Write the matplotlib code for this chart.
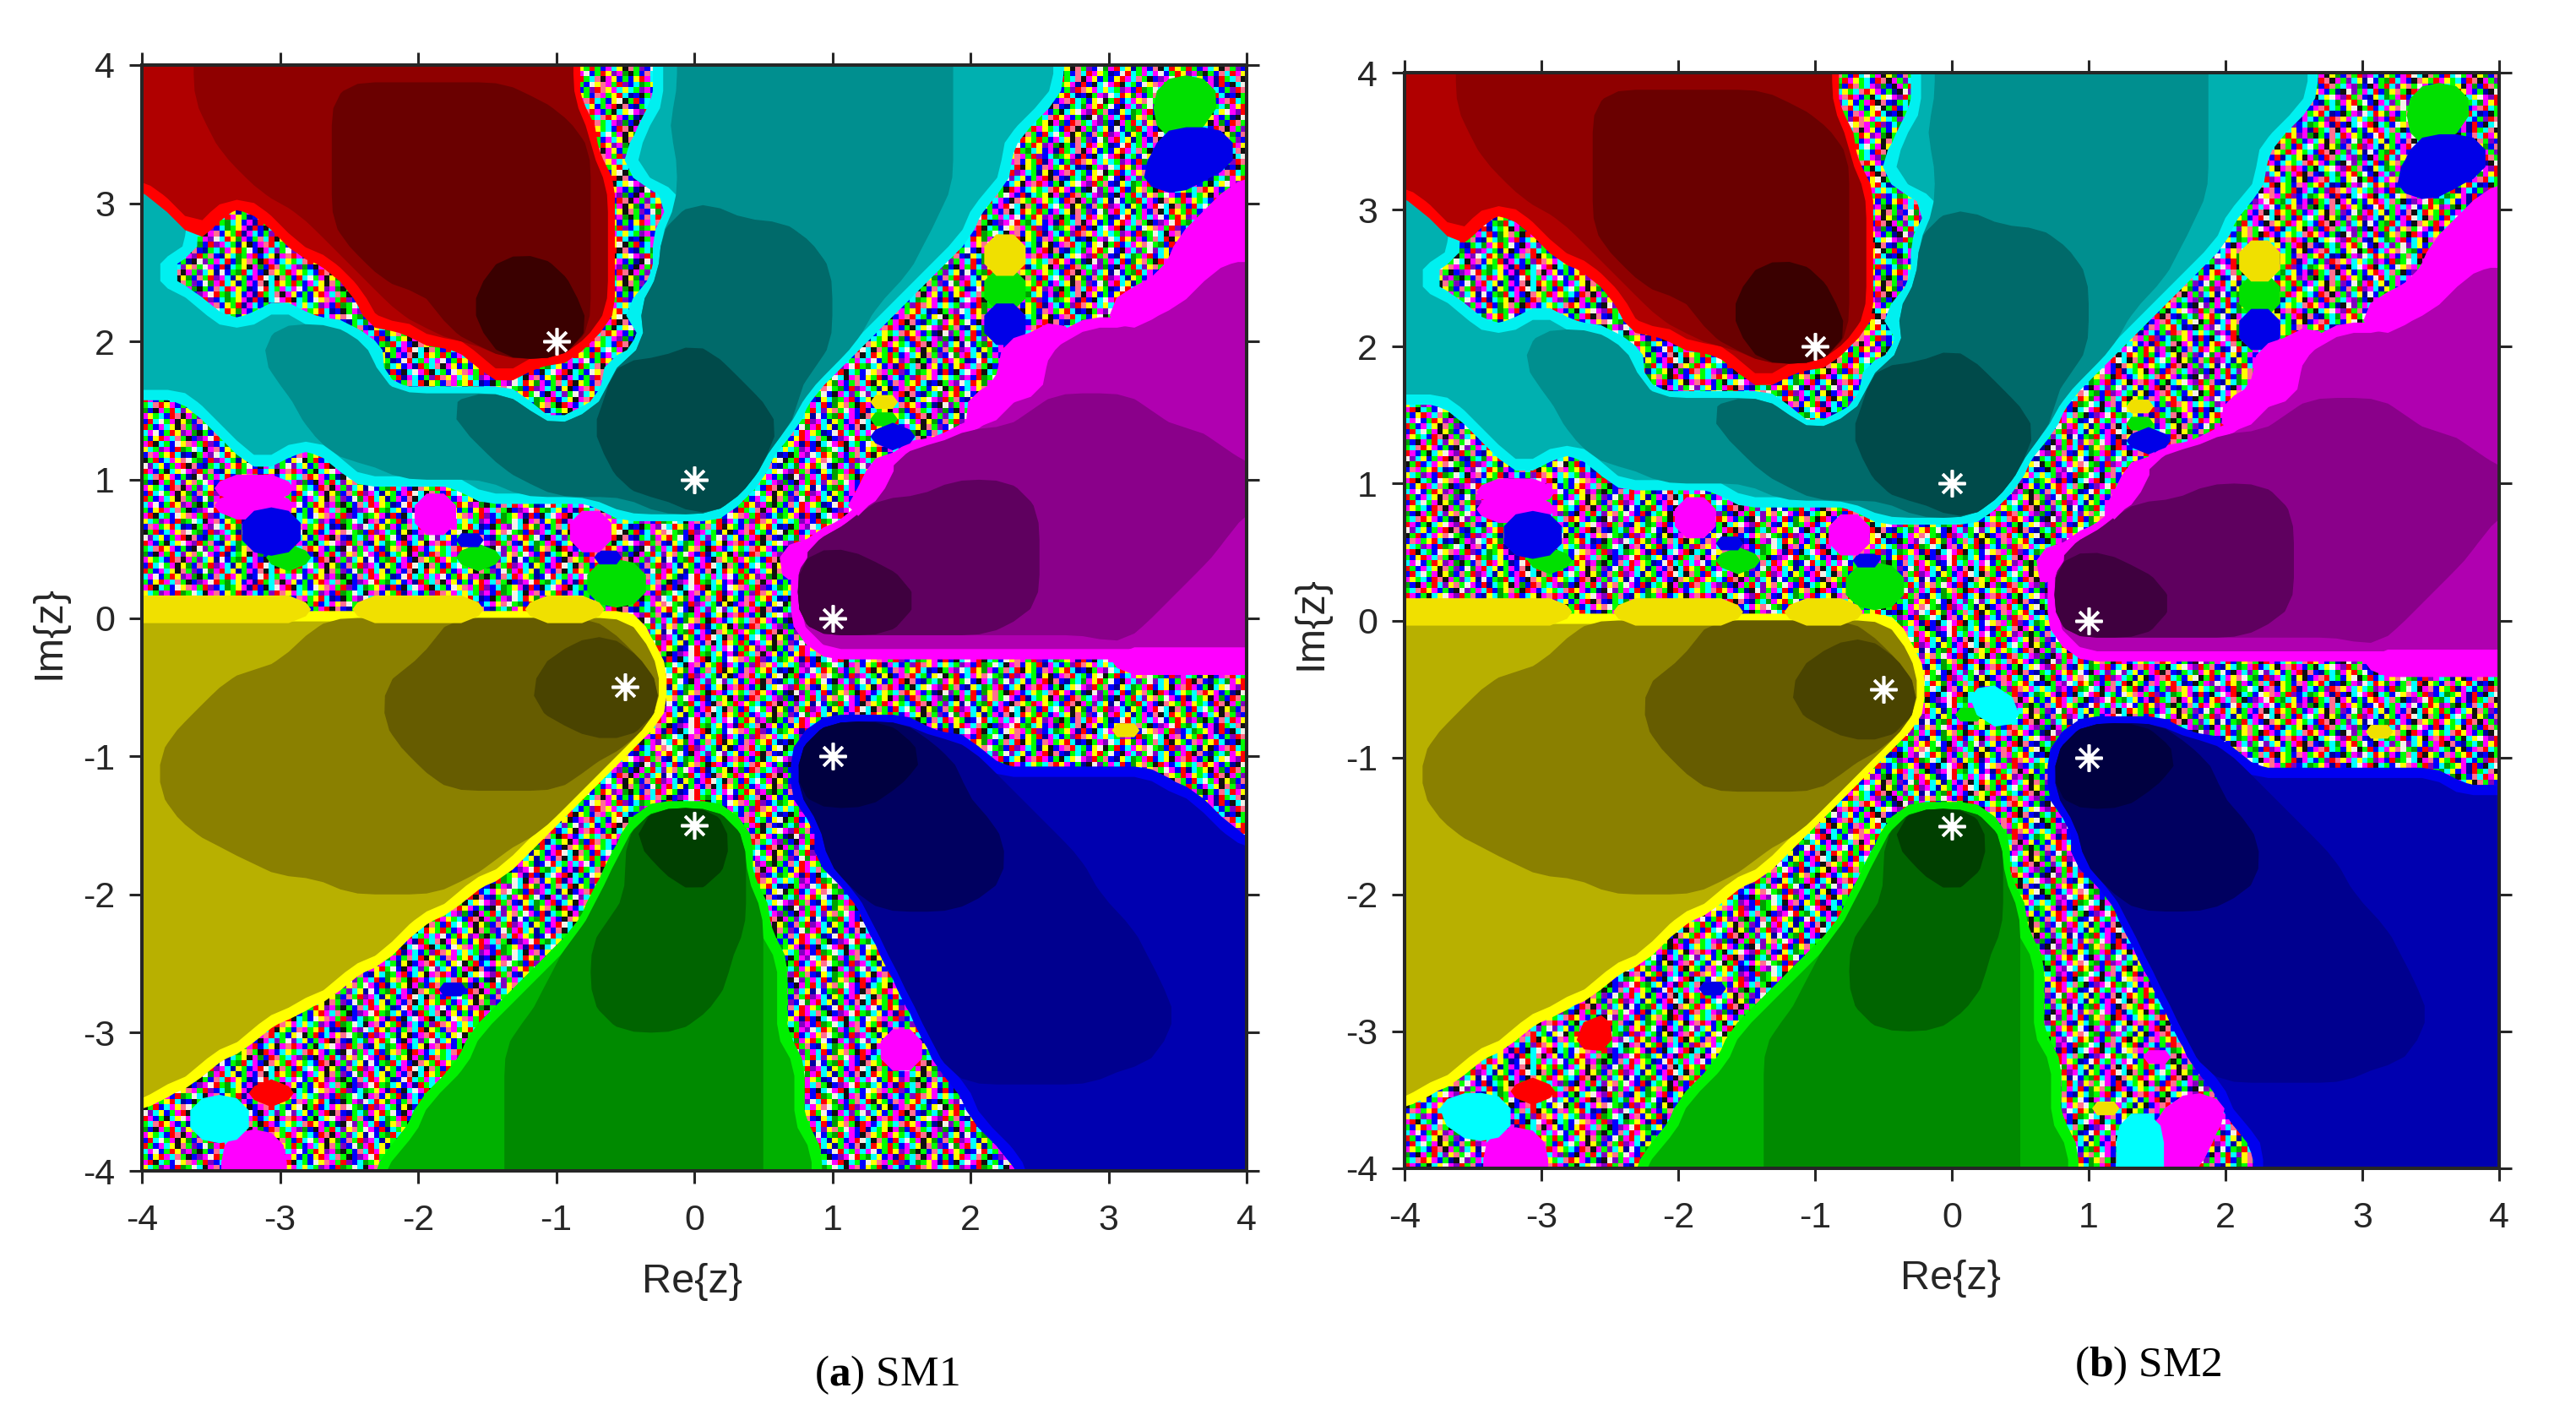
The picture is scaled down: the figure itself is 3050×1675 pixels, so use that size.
import numpy as np
import matplotlib
matplotlib.use("Agg")
import matplotlib.pyplot as plt
from matplotlib.colors import ListedColormap

plt.rcParams['font.family'] = ['Liberation Sans', 'DejaVu Sans']
plt.rcParams['mathtext.fontset'] = 'custom'
plt.rcParams['mathtext.bf'] = 'Liberation Serif:bold'
plt.rcParams['mathtext.rm'] = 'Liberation Serif'

W, H = 3050, 1675
TEXT = '#262626'

# star positions
roots_re = [-1, 0, 1, 1, 0, -0.5]
roots_im = [2, 1, 0, -1, -1.5, -0.5]
tick_values = [-4, -3, -2, -1, 0, 1, 2, 3, 4]
tick_labels = ['-4', '-3', '-2', '-1', '0', '1', '2', '3', '4']

# basins, 64 rows from Im=4 down, run lengths of cells
# a-d red, e-h teal, i-l magenta, m-p yellow, q-t green, u-x blue (light to dark)
# capitals are the bright patches, . is the speckled boundary
rows_sm1 = [
    "a3 b22 .5 e1 f16 e6 .11",
    "a3 b8 c11 b3 .5 e1 f16 e6 .6 G3 .2",
    "a3 b8 c13 b1 .5 e1 f16 e5 .7 G3 .2",
    "a4 b7 c14 b1 .3 e1 f17 e4 .8 G2 .3",
    "a4 b7 c15 .3 e2 f16 e3 .9 B4 .1",
    "a5 b6 c15 .2 e3 f16 e3 .7 R1 .1 B4 .1",
    "a6 b5 c15 b1 .2 e2 f16 e3 .8 B3 .3",
    "e1 a6 b4 c15 b1 .4 f16 e2 .14 M1",
    "e2 a2 .3 a2 b2 c15 b1 .4 g3 f12 e2 .14 M2",
    "e3 a1 .4 a2 b1 c15 b1 .3 g8 f8 e2 .13 M3",
    "e3 .6 a2 b1 c14 b1 .3 g9 f6 e2 .2 Y2 .9 M4",
    "e1 .10 a1 b1 c7 d4 c2 b1 .3 g10 f5 e1 .1 R1 .1 Y2 .9 M2 i2",
    "e1 .11 a1 b1 c6 d5 c1 b1 .3 g10 f4 e1 .4 G2 .8 M2 i3",
    "e3 .10 a1 b3 c2 d6 c1 b1 .2 g11 f3 e1 .5 G2 .4 B1 .1 M3 i4",
    "e4 .3 e2 .4 a2 b2 c2 d7 b1 .1 g12 f2 e1 .6 B2 .5 M2 i6",
    "e7 f5 .4 a1 b1 c2 d6 .4 g10 f2 .5 R1 .1 B2 .1 M2 i10",
    "e7 f7 .5 a1 d5 .4 g2 h2 g7 f1 .9 M2 i12",
    "e7 f6 .7 a2 .5 h7 g5 f1 .10 M2 i12",
    "e8 f6 .13 h8 g3 f1 .11 M2 i12",
    ".3 e6 f8 g5 .5 h9 g2 .4 Y2 .4 M2 i2 j6 i6",
    ".4 e5 f9 g5 .2 g1 h11 g1 .4 G2 .4 M1 i2 j8 i5",
    ".5 e5 f9 g7 h11 .5 B3 .1 M1 j15 i2",
    ".6 e2 .3 f9 g7 h9 .7 M1 j19 i1",
    ".12 e2 f7 g6 h9 .6 M1 j21",
    ".4 M5 .10 e2 f2 g5 h7 .7 M1 j3 k5 j13",
    ".4 i5 .7 M2 .9 f2 g2 h3 .7 M1 k10 j12",
    ".6 B3 .7 M2 .7 M2 .13 M1 k11 j11 i1",
    ".6 B3 .9 B2 .5 M2 .11 M1 k13 j11 i1",
    ".7 G3 .8 G3 .5 B2 .9 M1 l4 k10 j10 i2",
    ".26 G3 .8 M1 l6 k8 j9 i3",
    ".26 G3 .9 l7 k7 j8 i4",
    "Y10 .2 Y8 .2 Y5 .11 l7 k7 j7 i5",
    "m10 n7 o10 n2 .9 l6 k6 j8 i6",
    "m9 n8 o8 p3 n1 .10 i17 j1 i7",
    "m8 n8 o7 p6 n1 .26 M8",
    "m5 n9 o9 p7 .34",
    "m4 n10 o8 p8 .34",
    "m3 n11 o9 p7 .34",
    "m2 n12 o11 p4 .10 x5 w1 .11 Y2 .6",
    "m1 n14 o13 .10 x7 w1 v2 .16",
    "m1 n15 o10 n1 .11 x8 w2 v1 .15",
    "m1 n16 o8 n1 .12 x6 w3 v3 u9 .5",
    "m1 n24 .13 x5 w5 v3 u10 .3",
    "m2 n22 .5 t5 .5 w10 v3 u10 .2",
    "m3 n20 .5 t6 s1 .5 w10 v3 u10 .1",
    "m5 n16 m1 .6 s1 t5 s1 .4 w11 v4 u10",
    "m7 n13 m1 .6 r1 s2 t4 s1 .5 w10 v5 u9",
    "m11 n7 m1 .8 r1 s3 t2 s2 .6 w9 v5 u9",
    "m18 .8 r2 s7 r1 .6 w6 v8 u8",
    "m16 .10 r1 s8 r1 .6 v15 u7",
    "m15 .10 r1 s9 r1 .7 v15 u6",
    "m14 .10 r2 s8 r2 q1 .6 v15 u6",
    "m12 .11 q1 r2 s8 r2 q1 .7 v15 u5",
    "m11 .6 B2 .3 q1 r3 s8 r2 q1 .7 v15 u5",
    "m9 .12 q2 r3 s7 r3 q1 .8 v15 u4",
    "m7 .13 q2 r5 s5 r4 q1 .8 v15 u4",
    "m6 .13 q2 r15 q1 .6 M2 .1 v13 u5",
    "m4 .15 q2 r15 q2 .5 M2 .1 v13 u5",
    "m3 .15 q3 r15 q2 .9 v9 u8",
    "m1 .5 R3 .8 q4 r15 q2 .10 u16",
    ".3 T3 .10 q5 r15 q2 .10 u16",
    ".3 T3 .10 q5 r15 q2 .11 u15",
    ".5 M3 .7 q6 r15 q3 .11 u14",
    ".5 M3 .6 q7 r15 q3 .12 u13",
]

# SM2 is nearly the same picture, only these rows differ
rows_sm2_changed = {
    36: "m4 n10 o8 p8 .3 T2 .29",
    37: "m3 n11 o9 p7 .2 G2 T2 .28",
    41: "m1 n16 o8 n1 .12 x6 w3 v3 u11 .3",
    42: "m1 n24 .13 x5 w5 v3 u13",
    43: "m2 n22 .5 t5 .5 w10 v3 u12",
    44: "m3 n20 .5 t6 s1 .5 w10 v3 u11",
    55: "m7 .4 R1 .8 q2 r5 s5 r4 q1 .8 v15 u4",
    56: "m6 .4 R2 .7 q2 r15 q1 .9 v13 u5",
    60: ".2 T4 .10 q5 r15 q2 .2 Y2 .3 M3 u16",
    61: ".3 T3 .10 q5 r15 q2 .4 T2 M3 .2 u15",
    62: ".5 M3 .7 q6 r15 q3 .3 T2 M3 .3 u14",
    63: ".5 M3 .6 q7 r15 q3 .3 T2 M2 .4 u14",
}

# speckle pattern of the boundary, rows of different length so it does not line up
speckle = [
    "RGBMCYKSGPBWDMRCYNGMBSKCRYG",
    "CMWBGRYPMDKGBSCRMYGNBWRCGM",
    "GBYRMCSGKBPMWRGDCYBMNRGCSKMYB",
    "MRKCGBWYSMGRPBCDGYMNRBKCW",
    "YCGPMBRDGWCKMSBYGRNMCBGPRSYMC",
    "BSMGYRCNBKGMPWCRYDMBGSCRKYG",
    "KGRBCMYSWGDBRPMCGNYKBMSRCGBYW",
    "WPCYBGMRKSBNGCDMYRGWBKMCPG",
    "RMBGKCYWMPRGSBNYCDGMRBCYKMS",
    "GCSRYMBGNKWPGMCRBDYSGKRMBCY",
    "DBKMGRCPYSGWMBRNCGYKMDBRSGCMP",
    "MYGCBRSKMGPCYNWBGDRCMBKSYGR",
    "BRCWGMKYDBSGRPMCNYGBMRWCKSG",
]
speckle_colors = {
    'R': '#ff0000', 'G': '#00ff00', 'B': '#0000ff', 'M': '#ff00ff', 'C': '#00ffff',
    'Y': '#ffff00', 'W': '#f4f0e8', 'K': '#101010', 'P': '#8000c0', 'D': '#00a000',
    'S': '#ff7090', 'N': '#0000a0',
}

basins = ['efgh', 'abcd', 'ijkl', 'mnop', 'qrst', 'uvwx']
rim_colors = ['#00f0f0', '#ff0000', '#ff00ff', '#ffff00', '#00f000', '#0000f0']
shade_colors = [
    ['#00b0b0', '#008f8f', '#006a6a', '#004a4a'],
    ['#b00000', '#8f0000', '#6a0000', '#3a0000'],
    ['#b000b0', '#8a008a', '#5f005f', '#3f003f'],
    ['#b8b000', '#8a8000', '#665c00', '#4a4400'],
    ['#00b000', '#008a00', '#006400', '#003f00'],
    ['#0000b0', '#00008f', '#000060', '#000040'],
]
patch_colors = {'R': '#ff0000', 'G': '#00e000', 'B': '#0000e8', 'M': '#ff00ff',
                'T': '#00ffff', 'Y': '#f0e000'}


def expand_row(row):
    cells = ''
    for run in row.split():
        cells += run[0] * int(run[1:])
    return list(cells.ljust(64, '.')[:64])


def speckle_image(flip):
    letters = list(speckle_colors.keys())
    n = 200
    img = np.zeros((n, n), dtype=int)
    source = speckle[::-1] if flip else speckle
    for i in range(n):
        line = source[i % len(source)]
        line = (line * (n // len(line) + 1))[:n]
        img[i] = [letters.index(ch) for ch in line]
    return img, ListedColormap([speckle_colors[k] for k in letters])


def soften(values, passes):
    # rounds the stair steps of the cell grid before contouring
    out = values
    kernel = [0.25, 0.5, 0.25]
    for _ in range(passes):
        wide = np.pad(out, 1, mode='edge')
        wide = np.apply_along_axis(lambda v: np.convolve(v, kernel, mode='same'), 0, wide)
        wide = np.apply_along_axis(lambda v: np.convolve(v, kernel, mode='same'), 1, wide)
        out = wide[1:-1, 1:-1]
    return out


def fill_mask(ax, xs, ys, mask, color, level=0.5, passes=2):
    padded = soften(np.pad(mask.astype(float), 1, mode='edge'), passes)
    ax.contourf(xs, ys, padded, levels=[level, 2], colors=[color], antialiased=True, zorder=2)


def draw_panel(box, rows, flip):
    left, top, right, bottom = box
    ax = plt.gcf().add_axes([left / W, 1 - bottom / H, (right - left) / W, (bottom - top) / H])
    img, cmap = speckle_image(flip)
    ax.imshow(img, extent=[-4, 4, -4, 4], cmap=cmap, interpolation='nearest', aspect='auto', zorder=1)

    grid = np.array([expand_row(r) for r in rows])
    centres = -4 + 0.125 * (np.arange(64) + 0.5)
    xs = np.concatenate([[-4], centres, [4]])
    ys = np.concatenate([[4], centres[::-1], [-4]])

    for letters, rim, colors in zip(basins, rim_colors, shade_colors):
        whole = np.isin(grid, list(letters))
        # outer edge keeps its bumps, the inner shades are rounder
        fill_mask(ax, xs, ys, whole, rim, level=0.3, passes=1)
        fill_mask(ax, xs, ys, whole, colors[0], level=0.6, passes=1)
        for k in range(1, 4):
            fill_mask(ax, xs, ys, np.isin(grid, list(letters[k:])), colors[k])
    for ch, color in patch_colors.items():
        fill_mask(ax, xs, ys, grid == ch, color, level=0.3, passes=1)

    ax.plot(roots_re, roots_im, ls='none', marker=(8, 2, 0), ms=23, mew=2.6, color='white', zorder=4)

    ax.set_xlim(-4, 4)
    ax.set_ylim(-4, 4)
    ax.set_xticks(tick_values)
    ax.set_xticklabels(tick_labels)
    ax.set_yticks(tick_values)
    ax.set_yticklabels(tick_labels)
    ax.tick_params(axis='x', direction='out', length=11, width=2.2, color=TEXT, labelcolor=TEXT,
                   labelsize=31, pad=17, top=True, bottom=True)
    ax.tick_params(axis='y', direction='out', length=11, width=2.2, color=TEXT, labelcolor=TEXT,
                   labelsize=31, pad=12, left=True, right=True)
    for spine in ax.spines.values():
        spine.set_linewidth(2.9)
        spine.set_color(TEXT)
        spine.set_zorder(5)
    return ax


def put_text(x, y, s, **kw):
    plt.gcf().text(x / W, 1 - y / H, s, ha='center', va='center', **kw)


def main():
    plt.figure(figsize=(W / 100, H / 100), dpi=100, facecolor='white')

    rows_sm2 = list(rows_sm1)
    for i, row in rows_sm2_changed.items():
        rows_sm2[i] = row

    draw_panel((168, 77, 1476, 1386), rows_sm1, False)
    draw_panel((1663, 86, 2959, 1383), rows_sm2, True)

    put_text(819, 1517, 'Re{z}', fontsize=35, color=TEXT)
    put_text(2309, 1513, 'Re{z}', fontsize=35, color=TEXT)
    put_text(58, 749, 'Im{z}', fontsize=35, color=TEXT, rotation=90)
    put_text(1552, 738, 'Im{z}', fontsize=35, color=TEXT, rotation=90)

    put_text(1050, 1628, r'($\mathbf{a}$) SM1', fontsize=37, color='black', family='Liberation Serif')
    put_text(2543, 1617, r'($\mathbf{b}$) SM2', fontsize=37, color='black', family='Liberation Serif')

    plt.savefig('out.png', dpi=100)


if __name__ == '__main__':
    main()
